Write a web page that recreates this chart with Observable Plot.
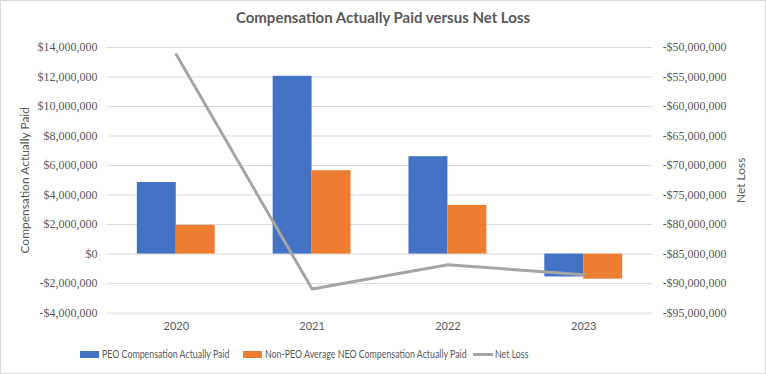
<!DOCTYPE html>
<html>
<head>
<meta charset="utf-8">
<script src="https://cdn.jsdelivr.net/npm/d3@7"></script>
<script src="https://cdn.jsdelivr.net/npm/@observablehq/plot@0.6"></script>
<style>
  html, body { margin: 0; padding: 0; background: #fff; }
  #chart { position: relative; width: 764px; height: 372px; border: 1px solid #d9d9d9; background: #fff; overflow: hidden; font-family: Lato, "Open Sans", sans-serif; }
  #title { position: absolute; left: 0; top: 7px; width: 100%; text-align: center; font-weight: bold; font-size: 15px; color: #595959; }
  #plot { position: absolute; left: -1px; top: 29px; }
  #legend { position: absolute; top: 347px; left: 0; width: 100%; font-size: 10.5px; color: #595959; }
  .item { position: absolute; display: flex; align-items: center; white-space: nowrap; }
  .sw { display: inline-block; width: 19px; height: 7px; margin-right: 3px; flex: none; }
  .ln { display: inline-block; width: 20px; height: 3px; margin-right: 2px; background: #A5A5A5; flex: none; }
  .tx { display: inline-block; transform: scaleX(0.84); transform-origin: left center; }
</style>
</head>
<body>
<div id="chart">
  <div id="title">Compensation Actually Paid versus Net Loss</div>
  <div id="plot"></div>
  <div id="legend">
    <div class="item" style="left:79px"><span class="sw" style="background:#4472C4"></span><span class="tx">PEO Compensation Actually Paid</span></div>
    <div class="item" style="left:242px"><span class="sw" style="background:#ED7D31"></span><span class="tx">Non-PEO Average NEO Compensation Actually Paid</span></div>
    <div class="item" style="left:472px"><span class="ln"></span><span class="tx">Net Loss</span></div>
  </div>
</div>
<script>
const years = ["2020", "2021", "2022", "2023"];
const peoCAP = [4850000, 12050000, 6600000, -1550000];
const neoCAP = [1950000, 5650000, 3300000, -1700000];
const netLoss = [-51200000, -90900000, -86800000, -88500000];
const leftTicks = [-4000000, -2000000, 0, 2000000, 4000000, 6000000, 8000000, 10000000, 12000000, 14000000];
const rightTicks = [-95000000, -90000000, -85000000, -80000000, -75000000, -70000000, -65000000, -60000000, -55000000, -50000000];

const leftMin = -4000000, leftMax = 14000000;
const rightMin = -95000000, rightMax = -50000000;
const toLeft = v => leftMin + (v - rightMin) * (leftMax - leftMin) / (rightMax - rightMin);
const toRight = v => rightMin + (v - leftMin) * (rightMax - rightMin) / (leftMax - leftMin);

const fmt = d3.format(",");
const money = v => (v < 0 ? "-$" : "$") + fmt(Math.round(Math.abs(v)));

const peoData = years.map((y, i) => ({year: y, value: peoCAP[i]}));
const neoData = years.map((y, i) => ({year: y, value: neoCAP[i]}));
const lossData = years.map((y, i) => ({year: y, value: toLeft(netLoss[i])}));

const chart = Plot.plot({
  width: 766,
  height: 310,
  marginLeft: 107,
  marginRight: 113,
  marginTop: 17,
  marginBottom: 27,
  style: {fontFamily: "Lato, 'Open Sans', sans-serif", color: "#595959", background: "transparent"},
  x: {domain: years, type: "band", paddingInner: 0.4286, paddingOuter: 0.2143, label: null},
  y: {domain: [leftMin, leftMax], label: null},
  marks: [
    Plot.gridY(leftTicks, {stroke: "#d9d9d9", strokeOpacity: 1}),
    Plot.barY(peoData, {x: "year", y: "value", fill: "#4472C4", insetRight: 39}),
    Plot.barY(neoData, {x: "year", y: "value", fill: "#ED7D31", insetLeft: 39}),
    Plot.line(lossData, {x: "year", y: "value", stroke: "#A5A5A5", strokeWidth: 3}),
    Plot.axisY(leftTicks, {anchor: "left", tickSize: 0, tickPadding: 10, tickFormat: money, label: null, fontSize: 12, fontFamily: "'Liberation Serif', serif"}),
    Plot.axisY(rightTicks.map(toLeft), {anchor: "right", tickSize: 0, tickPadding: 10, tickFormat: v => money(Math.round(toRight(v) / 1000) * 1000), label: null, fontSize: 12, fontFamily: "'Liberation Serif', serif"}),
    Plot.axisX(years, {tickSize: 0, tickPadding: 9, label: null, fontSize: 11}),
    Plot.text(["Compensation Actually Paid"], {frameAnchor: "left", textAnchor: "middle", rotate: -90, dx: -82, fontSize: 12, fill: "#595959"}),
    Plot.text(["Net Loss"], {frameAnchor: "right", textAnchor: "middle", rotate: -90, dx: 89, fontSize: 12, fill: "#595959"})
  ]
});
document.getElementById("plot").appendChild(chart);
</script>
</body>
</html>
